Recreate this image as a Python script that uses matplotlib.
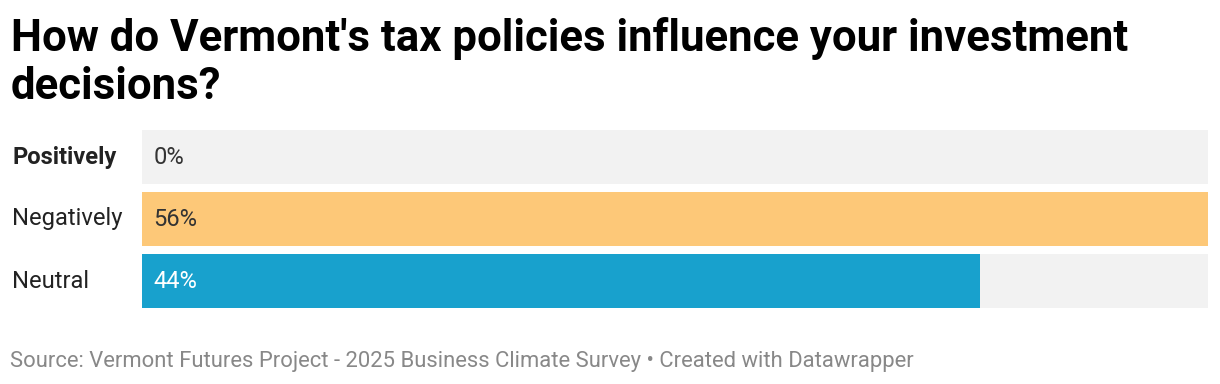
import matplotlib
matplotlib.use('Agg')
import matplotlib.pyplot as plt

categories = ['Positively', 'Negatively', 'Neutral']
values = [0, 56, 44]
colors = ['#f2f2f2', '#fdc878', '#18a1cd']
label_colors = ['#333333', '#333333', '#ffffff']

title_lines = ["How do Vermont's tax policies influence your investment", "decisions?"]
source = "Source: Vermont Futures Project - 2025 Business Climate Survey \u2022 Created with Datawrapper"

plt.rcParams['font.family'] = ['Roboto', 'DejaVu Sans']

W, H = 1220, 384
fig = plt.figure(figsize=(W / 100, H / 100), dpi=100)
ax = fig.add_axes([142 / W, 1 - 308 / H, (1208 - 142) / W, (308 - 130) / H])

pitch = 62
bh = 54 / pitch
vmax = max(values)
ys = list(range(len(categories)))
ax.barh(ys, [vmax] * len(ys), height=bh, color='#f2f2f2', left=0)
ax.barh(ys, values, height=bh, color=colors)
ax.set_xlim(0, vmax)
ax.set_ylim(len(ys) - 1 + 27 / pitch, -27 / pitch)
ax.axis('off')

for y, cat, v, lc in zip(ys, categories, values, label_colors):
    ax.text(0.6, y, f'{v}%', color=lc, fontsize=17.1, va='center', ha='left')
    fig.text(12 / W, 1 - (130 + y * pitch + 27) / H, cat, fontsize=17.1, color='#222222',
             fontweight='bold' if cat == 'Positively' else 'normal', va='center', ha='left')

for i, line in enumerate(title_lines):
    fig.text(11 / W, 1 - (51 + 48 * i) / H, line, fontsize=31.5, fontweight='bold',
             color='#000000', va='baseline', ha='left')
fig.text(10 / W, 1 - 367 / H, source, fontsize=15.8, color='#888888', va='baseline', ha='left')

fig.savefig('out.png', dpi=100)
